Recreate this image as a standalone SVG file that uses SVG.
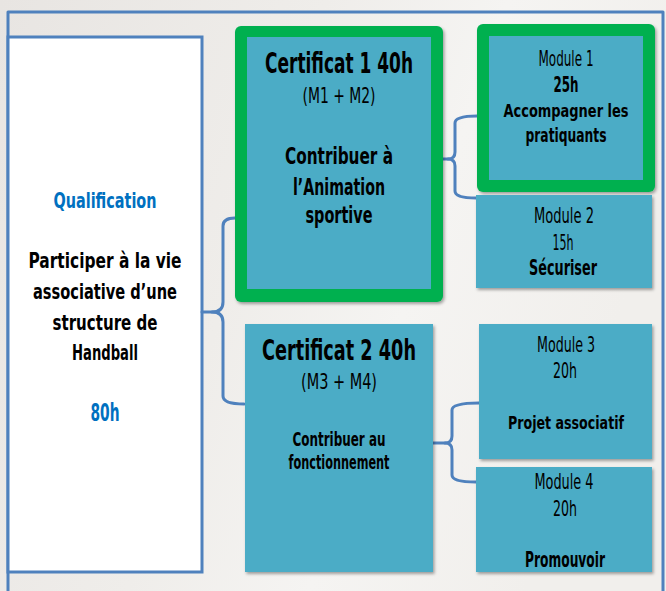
<svg xmlns="http://www.w3.org/2000/svg" width="666" height="591" viewBox="0 0 666 591">
<defs>
<linearGradient id="bg" x1="0" y1="0" x2="1" y2="0.3">
<stop offset="0" stop-color="#E8E5E2"/>
<stop offset="0.45" stop-color="#EFEDEA"/>
<stop offset="0.7" stop-color="#F5F4F2"/>
<stop offset="1" stop-color="#F1EFEC"/>
</linearGradient>
<filter id="sh" x="-10%" y="-10%" width="130%" height="130%">
<feDropShadow dx="1.5" dy="2" stdDeviation="1.5" flood-color="#000" flood-opacity="0.35"/>
</filter>
</defs>
<style>
.t{font-family:"DejaVu Sans Condensed","DejaVu Sans",sans-serif;text-anchor:middle;fill:#000}
.b{font-weight:bold}
.q{fill:#0070C0}
.teal{fill:#4BACC6}
.green{fill:#00B050}
.ln{fill:none;stroke:#4F81BD;stroke-width:3;stroke-linecap:round;stroke-linejoin:round}
</style>
<rect x="0" y="0" width="666" height="591" fill="url(#bg)"/>
<g id="frame">
<path class="ln" d="M8,591 L8,12 L663,12 L663,591"/>
</g>
<g id="qualification">
<rect x="8" y="37" width="194" height="535" fill="#FFFFFF" stroke="#4F81BD" stroke-width="3"/>
<text class="t b q" x="105" y="208" font-size="21" textLength="103" lengthAdjust="spacingAndGlyphs">Qualification</text>
<text class="t b" x="105" y="268" font-size="21" textLength="153" lengthAdjust="spacingAndGlyphs">Participer  à la vie</text>
<text class="t b" x="105" y="299" font-size="21" textLength="144" lengthAdjust="spacingAndGlyphs">associative  d’une</text>
<text class="t b" x="105" y="330" font-size="21" textLength="105" lengthAdjust="spacingAndGlyphs">structure  de</text>
<text class="t b" x="105" y="360" font-size="21" textLength="66" lengthAdjust="spacingAndGlyphs">Handball</text>
<text class="t b q" x="105" y="421" font-size="24" textLength="29" lengthAdjust="spacingAndGlyphs">80h</text>
</g>
<g id="connectors">
<path class="ln" d="M202,312 L212,312 Q223,312 223,322 L223,396 Q223,404 244,404"/>
<path class="ln" d="M212,312 Q223,312 223,302 L223,226 Q223,218 235,218"/>
<path class="ln" d="M443,159 L448,159 Q455,159 455,152 L455,123 Q455,116 477,116"/>
<path class="ln" d="M448,159 Q455,159 455,166 L455,191 Q455,198 476,198"/>
<path class="ln" d="M433,443 L445,443 Q452,443 452,436 L452,410 Q452,403 479,403"/>
<path class="ln" d="M445,443 Q452,443 452,450 L452,475 Q452,482 476,482"/>
</g>
<g id="certificat1">
<rect class="green" x="235" y="26" width="208" height="276" rx="6" filter="url(#sh)"/>
<rect class="teal" x="247" y="37" width="184" height="252"/>
<text class="t b" x="339" y="73" font-size="28" textLength="148" lengthAdjust="spacingAndGlyphs">Certificat 1 40h</text>
<text class="t" x="339" y="103" font-size="22" textLength="73" lengthAdjust="spacingAndGlyphs">(M1 + M2)</text>
<text class="t b" x="339" y="164" font-size="23" textLength="108" lengthAdjust="spacingAndGlyphs">Contribuer  à</text>
<text class="t b" x="339" y="195" font-size="23" textLength="92" lengthAdjust="spacingAndGlyphs">l’Animation</text>
<text class="t b" x="339" y="223" font-size="23" textLength="67" lengthAdjust="spacingAndGlyphs">sportive</text>
</g>
<g id="certificat2">
<rect class="teal" x="245" y="324" width="188" height="248" filter="url(#sh)"/>
<text class="t b" x="339" y="360" font-size="28" textLength="154" lengthAdjust="spacingAndGlyphs">Certificat  2 40h</text>
<text class="t" x="339" y="389" font-size="22" textLength="76" lengthAdjust="spacingAndGlyphs">(M3 + M4)</text>
<text class="t b" x="339" y="446" font-size="19" textLength="93" lengthAdjust="spacingAndGlyphs">Contribuer  au</text>
<text class="t b" x="339" y="469" font-size="19" textLength="101" lengthAdjust="spacingAndGlyphs">fonctionnement</text>
</g>
<g id="module1">
<rect class="green" x="477" y="24" width="178" height="168" rx="6" filter="url(#sh)"/>
<rect class="teal" x="489" y="36" width="154" height="144"/>
<text class="t" x="566" y="66" font-size="21" textLength="55" lengthAdjust="spacingAndGlyphs">Module 1</text>
<text class="t b" x="566" y="92" font-size="21" textLength="25" lengthAdjust="spacingAndGlyphs">25h</text>
<text class="t b" x="566" y="117" font-size="17" textLength="125" lengthAdjust="spacingAndGlyphs">Accompagner  les</text>
<text class="t b" x="566" y="142" font-size="19" textLength="81" lengthAdjust="spacingAndGlyphs">pratiquants</text>
</g>
<g id="module2">
<rect class="teal" x="476" y="195" width="176" height="93" filter="url(#sh)"/>
<text class="t" x="564" y="223" font-size="21" textLength="60" lengthAdjust="spacingAndGlyphs">Module 2</text>
<text class="t" x="563" y="250" font-size="21" textLength="21" lengthAdjust="spacingAndGlyphs">15h</text>
<text class="t b" x="563" y="275" font-size="21" textLength="68" lengthAdjust="spacingAndGlyphs">Sécuriser</text>
</g>
<g id="module3">
<rect class="teal" x="479" y="324" width="173" height="135" filter="url(#sh)"/>
<text class="t" x="566" y="352" font-size="21" textLength="58" lengthAdjust="spacingAndGlyphs">Module 3</text>
<text class="t" x="565" y="378" font-size="21" textLength="24" lengthAdjust="spacingAndGlyphs">20h</text>
<text class="t b" x="566" y="429" font-size="18" textLength="116" lengthAdjust="spacingAndGlyphs">Projet  associatif</text>
</g>
<g id="module4">
<rect class="teal" x="476" y="467" width="176" height="105" filter="url(#sh)"/>
<text class="t" x="564" y="489" font-size="21" textLength="59" lengthAdjust="spacingAndGlyphs">Module 4</text>
<text class="t" x="565" y="516" font-size="21" textLength="24" lengthAdjust="spacingAndGlyphs">20h</text>
<text class="t b" x="565" y="567" font-size="21" textLength="80" lengthAdjust="spacingAndGlyphs">Promouvoir</text>
</g>
</svg>
